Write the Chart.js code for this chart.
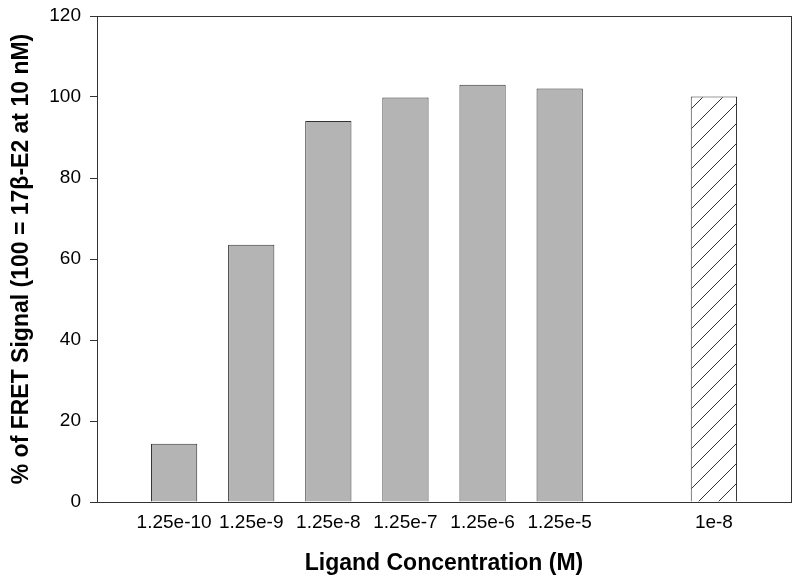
<!DOCTYPE html>
<html>
<head>
<meta charset="utf-8">
<script src="https://cdn.jsdelivr.net/npm/chart.js@4.4.0/dist/chart.umd.min.js"></script>
<style>
    html, body { margin: 0; padding: 0; background: #fff; }
    #wrap { width: 800px; height: 585px; }
</style>
</head>
<body>
<div id="wrap"><canvas id="ChartFret"></canvas></div>
<script>

/// DADOS DO GRÁFICO

// rótulos vazios servem de espaço (início, intervalo antes do 1e-8 e fim)
var concentracoes = ['', '1.25e-10', '1.25e-9', '1.25e-8', '1.25e-7', '1.25e-6', '1.25e-5', '', '1e-8', ''];
var sinal_fret = [null, 14.4, 63.5, 94.1, 99.9, 103.0, 102.1, null, 100.1, null];
var referencia = [false, false, false, false, false, false, false, false, true, false]; // barra hachurada
var y_ticks = [0, 20, 40, 60, 80, 100, 120];

var fonte = "'Liberation Sans', Arial, sans-serif";

// padrão hachurado "/"
function hachura() {
    var c = document.createElement('canvas');
    c.width = 20;
    c.height = 20;
    var g = c.getContext('2d');
    g.fillStyle = '#ffffff';
    g.fillRect(0, 0, 20, 20);
    g.strokeStyle = '#333333';
    g.lineWidth = 1;
    g.beginPath();
    g.moveTo(-2, 22); g.lineTo(22, -2);
    g.moveTo(-12, 12); g.lineTo(12, -12);
    g.moveTo(8, 32); g.lineTo(32, 8);
    g.stroke();
    return g.createPattern(c, 'repeat');
}

var padrao = hachura();
var cores = referencia.map(function (r) { return r ? padrao : 'rgb(180, 180, 180)'; });

// moldura do gráfico (topo e direita)
const moldura = {
    id: 'moldura',
    afterDatasetsDraw(chart) {
        const a = chart.chartArea;
        const ctx = chart.ctx;
        ctx.save();
        ctx.strokeStyle = '#333333';
        ctx.lineWidth = 1;
        ctx.strokeRect(Math.round(a.left) + 0.5, Math.round(a.top) + 0.5,
            Math.round(a.right - a.left), Math.round(a.bottom - a.top));
        ctx.restore();
    }
};

const chart_fret = document.getElementById('ChartFret');

new Chart(chart_fret, {
    type: 'bar',
    data: {
        labels: concentracoes,
        datasets: [{
            label: '',
            data: sinal_fret,
            backgroundColor: cores,
            borderColor: '#333333',
            borderWidth: 1,
            borderSkipped: 'bottom',
            categoryPercentage: 0.8,
            barPercentage: 0.75
        }]
    },
    options: {
        responsive: true,
        maintainAspectRatio: false,
        animation: false,
        layout: {
            padding: { left: 0, right: 8, top: 16, bottom: 0 }
        },
        plugins: {
            legend: { display: false },
            tooltip: { enabled: false }
        },
        scales: {
            x: {
                offset: false,
                grid: { display: false, drawTicks: false },
                border: { display: true, color: '#333333', width: 1 },
                ticks: {
                    color: '#000',
                    font: { family: fonte, size: 19 },
                    padding: 9,
                    autoSkip: false,
                    maxRotation: 0
                },
                title: {
                    display: true,
                    text: 'Ligand Concentration (M)',
                    color: '#000',
                    font: { family: fonte, size: 23, weight: 'bold' },
                    padding: { top: 0, bottom: 8 }
                },
                afterFit: function (scale) { scale.height = 83; }
            },
            y: {
                min: 0,
                max: 120,
                afterBuildTicks: function (scale) {
                    scale.ticks = y_ticks.map(function (v) { return { value: v }; });
                },
                grid: {
                    drawOnChartArea: false,
                    drawTicks: true,
                    tickLength: 7,
                    color: '#333333'
                },
                border: { display: true, color: '#333333', width: 1 },
                ticks: {
                    color: '#000',
                    font: { family: fonte, size: 19 },
                    padding: 9
                },
                title: {
                    display: true,
                    text: '% of FRET Signal (100 = 17\u03b2-E2 at 10 nM)',
                    color: '#000',
                    font: { family: fonte, size: 23, weight: 'bold' },
                    padding: { top: 8, bottom: 0 }
                },
                afterFit: function (scale) {
                    scale.width = 97;
                    scale.paddingTop = 0;
                    scale.paddingBottom = 0;
                }
            }
        }
    },
    plugins: [moldura]
});

</script>
</body>
</html>
